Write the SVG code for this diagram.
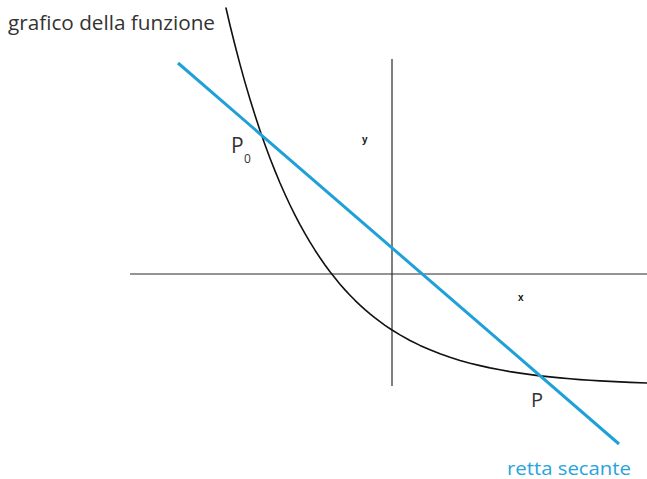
<svg xmlns="http://www.w3.org/2000/svg" width="647" height="479" viewBox="0 0 647 479">
<style>
.axis{stroke:#2a2a2a;stroke-width:1.2;fill:none}
.curve{stroke:#111;stroke-width:1.6;fill:none;stroke-linejoin:round;stroke-linecap:round}
.secant{stroke:#1fa0d9;stroke-width:3;fill:none}
.lbl{font-family:"Open Sans","Noto Sans","Liberation Sans",sans-serif;fill:#333}
.ax{font-family:"Liberation Sans",Arial,sans-serif;font-weight:bold;font-size:10px;fill:#111}
.blue{font-family:"Open Sans","Noto Sans","Liberation Sans",sans-serif;fill:#29a3dc}
</style>
<rect width="647" height="479" fill="#fff"/>
<g id="axes">
<line class="axis" x1="130" y1="274" x2="647" y2="274"/>
<line class="axis" x1="392" y1="59" x2="392" y2="386"/>
<text class="ax" x="362" y="143">y</text>
<text class="ax" x="518" y="301">x</text>
</g>
<g id="curve">
<polyline class="curve" points="226,8 230,25.2 235,45.3 240,64.4 245,82.4 250,99.3 255,115.3 260,130.5 265,144.8 270,158.2 275,170.9 280,183 285,194.3 290,205 295,215.1 300,224.7 305,233.7 310,242.2 315,250.2 320,257.8 325,265 330,271.8 335,278.1 340,284.2 345,289.9 350,295.2 355,300.3 360,305.1 365,309.6 370,313.9 375,317.9 380,321.7 385,325.3 392,330 400,334.9 410,340.5 420,345.4 430,349.8 440,353.8 450,357.3 460,360.4 470,363.2 480,365.6 490,367.9 500,369.8 510,371.6 520,373.1 538,375.6 550,376.9 560,377.9 570,378.8 580,379.6 590,380.3 600,380.9 610,381.4 620,381.9 630,382.4 647,383"/>
<text class="lbl" x="8" y="30" font-size="20" textLength="207" lengthAdjust="spacingAndGlyphs">grafico della funzione</text>
</g>
<g id="secant">
<line class="secant" x1="178" y1="63" x2="619" y2="444"/>
<text class="blue" x="507" y="475" font-size="18" textLength="124" lengthAdjust="spacingAndGlyphs">retta secante</text>
</g>
<g id="P0">
<text class="lbl" x="231" y="153" font-size="21">P</text>
<text class="lbl" x="244" y="163" font-size="12">0</text>
</g>
<g id="P">
<text class="lbl" x="531" y="407" font-size="20">P</text>
</g>
</svg>
